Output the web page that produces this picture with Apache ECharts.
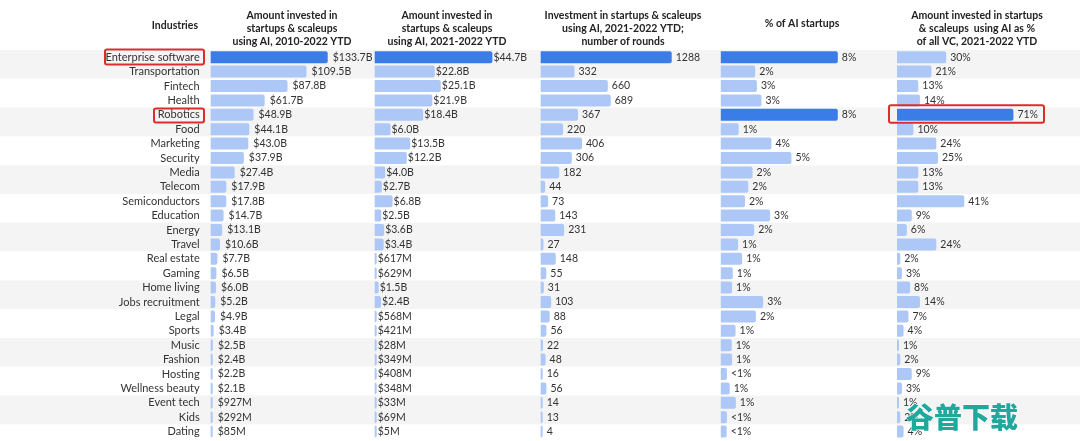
<!DOCTYPE html>
<html><head><meta charset="utf-8">
<script src="https://cdn.jsdelivr.net/npm/echarts@6/dist/echarts.min.js"></script>
<style>html,body{margin:0;padding:0;background:#fff}#c{width:1080px;height:441px}</style>
</head><body><div id="c"></div>
<script>
const industries = ['Enterprise software','Transportation','Fintech','Health','Robotics','Food','Marketing','Security','Media','Telecom','Semiconductors','Education','Energy','Travel','Real estate','Gaming','Home living','Jobs recruitment','Legal','Sports','Music','Fashion','Hosting','Wellness beauty','Event tech','Kids','Dating'];
// $B
const invested2010 = [133.7,109.5,87.8,61.7,48.9,44.1,43.0,37.9,27.4,17.9,17.8,14.7,13.1,10.6,7.7,6.5,6.0,5.2,4.9,3.4,2.5,2.4,2.2,2.1,0.927,0.292,0.085];
const invested2021 = [44.7,22.8,25.1,21.9,18.4,6.0,13.5,12.2,4.0,2.7,6.8,2.5,3.6,3.4,0.617,0.629,1.5,2.4,0.568,0.421,0.028,0.349,0.408,0.348,0.033,0.069,0.005];
const rounds = [1288,332,660,689,367,220,406,306,182,44,73,143,231,27,148,55,31,103,88,56,22,48,16,56,14,13,4];
const aiShare = [8,2.35,2.47,2.78,8,1.22,3.46,4.83,2.17,1.88,1.65,3.37,2.28,1.18,1.46,0.82,0.77,2.9,2.4,1.01,0.75,0.77,0.42,0.61,1.03,0.42,0.4];
const aiShareLabels = ['8%','2%','3%','3%','8%','1%','4%','5%','2%','2%','2%','3%','2%','1%','1%','1%','1%','3%','2%','1%','1%','1%','<1%','1%','1%','<1%','<1%'];
const vcShare = [30,21,13,14,71,10,24,25,13,13,41,9,6,24,2,3,8,14,7,4,1,2,9,3,1,2,4];
const headers = [
  'Amount invested in\nstartups & scaleups\nusing AI, 2010-2022 YTD',
  'Amount invested in\nstartups & scaleups\nusing AI, 2021-2022 YTD',
  'Investment in startups & scaleups\nusing AI, 2021-2022 YTD;\nnumber of rounds',
  '% of AI startups',
  'Amount invested in startups\n& scaleups  using AI as %\nof all VC, 2021-2022 YTD'
];
const highlighted = [['Enterprise software'],['Enterprise software'],['Enterprise software'],['Enterprise software','Robotics'],['Robotics']];

const FONT = 'Lato';
const DARK = '#3b7de6', LIGHT = '#adc8f6';
const TOP = 50, BAND = 14.4, H = BAND * industries.length;
const panels = [
  {left:210.7, width:117, data:invested2010, fmt:(v,i)=> v>=1 ? '$'+v.toFixed(1)+'B' : '$'+Math.round(v*1000)+'M', dist:5, hx:292},
  {left:374.7, width:117.7, data:invested2021, fmt:(v,i)=> v>=1 ? '$'+v.toFixed(1)+'B' : '$'+Math.round(v*1000)+'M', dist:1, hx:447},
  {left:540.7, width:131, data:rounds, fmt:(v,i)=> String(v), dist:4, hx:623},
  {left:720.8, width:117, data:aiShare, fmt:(v,i)=> aiShareLabels[i], dist:4, hx:802},
  {left:897, width:116.4, data:vcShare, fmt:(v,i)=> v+'%', dist:4, hx:977}
];

const grid = [{left:0, right:0, top:TOP, height:H}];
const xAxis = [{gridIndex:0, type:'value', show:false}];
const yAxis = [{gridIndex:0, type:'category', data:industries, inverse:true, show:true,
  axisLine:{show:false}, axisTick:{show:false}, axisLabel:{show:false}, splitLine:{show:false},
  splitArea:{show:true, areaStyle:{color:['#f4f4f4','#ffffff']}}}];
const series = [];
panels.forEach((p, k) => {
  const gi = k + 1;
  grid.push({left:p.left, width:p.width, top:TOP, height:H});
  xAxis.push({gridIndex:gi, type:'value', min:0, max:'dataMax', show:false});
  yAxis.push({gridIndex:gi, type:'category', data:industries, inverse:true,
    axisLine:{show:false}, axisTick:{show:false}, splitLine:{show:false},
    axisLabel:{show:k===0, fontFamily:FONT, fontSize:11, color:'#333', margin:11}});
  series.push({
    type:'bar', xAxisIndex:gi, yAxisIndex:gi, barWidth:12, barMinHeight:2, animation:false,
    data:p.data.map((v,i)=>({value:v, itemStyle:{color: highlighted[k].includes(industries[i]) ? DARK : LIGHT, borderRadius:[0,2,2,0]}})),
    label:{show:true, position:'right', distance:p.dist, fontFamily:FONT, fontSize:10.5, color:'#333',
      formatter:(prm)=>p.fmt(prm.value, prm.dataIndex)}
  });
});

const graphic = [];
graphic.push({type:'text', left:null, x:198, y:26, style:{text:'Industries', fontFamily:FONT, fontWeight:'bold', fontSize:10.5, fill:'#222', align:'right', verticalAlign:'middle'}});
panels.forEach((p,k)=>{
  graphic.push({type:'text', x:p.hx, y: k===3 ? 24 : 28.5, style:{text:headers[k], fontFamily:FONT, fontWeight:'bold', fontSize:10.5, lineHeight:13.3, fill:'#222', align:'center', verticalAlign:'middle'}});
});

const chart = echarts.init(document.getElementById('c'), null, {renderer:'canvas'});
chart.setOption({animation:false, grid, xAxis, yAxis, series, graphic});

// annotation boxes
const rowY = name => chart.convertToPixel({gridIndex:1}, [0, name])[1];
const yE = rowY('Enterprise software'), yR = rowY('Robotics');
const boxStyle = {fill:'none', stroke:'#dd2c2c', lineWidth:2};
graphic.push({type:'rect', shape:{x:105, y:yE-7.6, width:99, height:15, r:2}, style:boxStyle, z:50});
graphic.push({type:'rect', shape:{x:154, y:yR-6.2, width:50, height:14, r:2}, style:boxStyle, z:50});
graphic.push({type:'rect', shape:{x:889, y:yR-9.5, width:155, height:17.5, r:2}, style:boxStyle, z:50});
graphic.push({type:'text', x:962, y:417, z:60, style:{text:'谷普下载', fontFamily:'Noto Sans CJK SC', fontWeight:900, fontSize:28, fill:'#1fa89b', align:'center', verticalAlign:'middle', stroke:'#ffffff', lineWidth:1}});
chart.setOption({graphic});
</script></body></html>
